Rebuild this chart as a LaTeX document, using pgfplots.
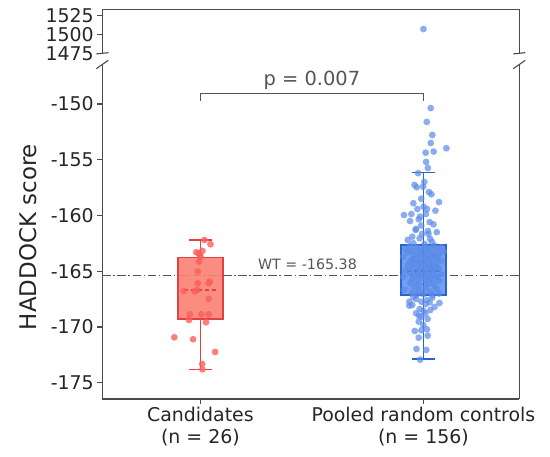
\documentclass[border=0pt]{standalone}
\usepackage{pgfplots}
\pgfplotsset{compat=1.18}
\usepackage{pgfplotstable}
\usepackage{fontspec}
\setmainfont{DejaVu Sans}
\definecolor{redfill}{RGB}{250,128,114}
\definecolor{redpt}{RGB}{250,95,90}
\definecolor{rededge}{RGB}{225,65,65}
\definecolor{bluefill}{RGB}{100,149,237}
\definecolor{bluept}{RGB}{90,138,232}
\definecolor{blueedge}{RGB}{40,100,205}
\definecolor{spine}{RGB}{75,75,75}
\definecolor{annot}{RGB}{85,85,85}
\definecolor{ticktext}{RGB}{38,38,38}

\pgfplotstableread{
x y
0.018 -162.20
0.045 -162.58
-0.019 -163.30
0.009 -163.18
-0.007 -163.39
0.000 -163.70
-0.006 -164.14
-0.012 -165.04
0.042 -165.93
-0.012 -166.08
-0.075 -166.77
-0.015 -166.68
-0.025 -166.80
0.037 -167.49
-0.048 -168.86
0.004 -168.86
0.037 -168.86
-0.051 -169.37
0.025 -169.58
-0.117 -170.93
-0.033 -171.10
0.066 -172.24
0.008 -173.32
0.009 -173.80
-0.003 -163.54
0.037 -166.08
}\candtab

\pgfplotstableread{
x y
1.033 -150.37
1.015 -151.61
1.040 -152.78
1.033 -153.50
1.103 -153.97
1.046 -154.27
1.010 -154.37
1.012 -155.20
1.020 -155.74
0.976 -156.21
1.004 -156.99
0.960 -157.26
0.970 -157.47
0.999 -157.42
1.036 -158.10
1.001 -159.21
0.973 -159.42
1.016 -159.42
0.913 -159.96
0.946 -159.87
1.011 -159.87
1.054 -159.57
0.979 -160.34
0.965 -161.30
1.023 -161.66
0.994 -161.66
0.950 -161.90
1.028 -160.60
0.967 -161.21
1.030 -162.10
0.983 -162.05
1.038 -162.35
0.955 -162.49
1.020 -161.39
0.990 -160.90
1.005 -162.55
0.930 -162.20
1.060 -161.50
0.985 -160.10
1.045 -160.80
0.940 -160.50
1.070 -158.80
0.990 -158.50
1.025 -157.90
0.955 -158.90
1.05 -162.70
0.94 -162.75
1.01 -162.80
1.08 -162.85
0.97 -162.90
1.03 -162.95
0.92 -163.00
1.06 -163.05
0.99 -163.10
1.02 -163.15
0.95 -163.20
1.09 -163.25
1.00 -163.30
0.93 -163.35
1.04 -163.40
0.98 -163.45
1.07 -163.50
0.96 -163.55
1.01 -163.60
1.05 -163.65
0.91 -163.70
1.03 -163.75
0.99 -163.80
1.06 -163.85
0.95 -163.90
1.02 -163.95
0.97 -164.00
1.08 -164.05
1.00 -164.10
0.94 -164.15
1.04 -164.20
0.98 -164.25
1.06 -164.30
0.96 -164.35
1.01 -164.40
1.03 -164.45
0.93 -164.50
1.05 -164.55
0.99 -164.60
1.02 -164.65
0.95 -164.70
1.07 -164.75
0.98 -164.80
1.04 -164.85
0.92 -164.90
1.01 -164.95
1.05 -165.00
0.97 -165.05
1.03 -165.10
0.94 -165.15
1.00 -165.20
1.08 -165.25
0.98 -165.30
1.04 -165.35
0.96 -165.40
1.02 -165.45
0.91 -165.50
1.06 -165.55
0.99 -165.60
1.03 -165.65
0.95 -165.70
1.01 -165.80
1.07 -165.85
0.97 -165.90
1.04 -166.00
0.94 -166.05
1.02 -166.15
0.98 -166.20
1.05 -166.30
0.96 -166.40
1.01 -166.50
1.06 -166.60
0.913 -166.68
0.98 -166.75
1.03 -166.85
0.95 -166.95
1.07 -167.00
1.00 -167.05
0.97 -167.10
1.04 -167.12
0.937 -167.73
0.937 -168.09
0.967 -167.49
0.991 -167.73
1.016 -167.58
1.028 -167.79
1.072 -167.85
0.983 -168.39
1.031 -168.48
0.967 -168.77
1.009 -168.77
0.991 -169.08
1.019 -169.28
0.979 -169.52
0.999 -169.82
0.961 -170.36
0.991 -170.30
1.016 -170.21
0.979 -170.96
1.019 -170.78
0.969 -171.97
1.013 -172.06
0.985 -172.93
1.040 -167.35
0.955 -167.30
1.010 -167.95
0.950 -168.03
1.050 -168.20
1.000 -168.55
0.980 -169.00
}\ctrltab

\begin{document}
\begin{tikzpicture}
\useasboundingbox (0,0) rectangle (550bp,457bp);
% ---------------- bottom panel ----------------
\begin{axis}[
  at={(102.3bp,58bp)}, anchor=south west,
  scale only axis, width=417bp, height=334.5bp,
  xmin=-0.44, xmax=1.43, ymin=-176.46, ymax=-146.46,
  axis x line*=bottom, axis y line*=left,
  axis line style={spine, line width=1.1bp},
  tick align=outside, major tick length=5bp,
  tick style={spine, line width=1.1bp},
  xtick={0,1},
  xticklabels={{Candidates\\(n = 26)},{Pooled random controls\\(n = 156)}},
  xticklabel style={align=center, font=\fontsize{19}{21.5}\selectfont, text=ticktext},
  ytick={-175,-170,-165,-160,-155,-150},
  yticklabels={-175,-170,-165,-160,-155,-150},
  yticklabel style={font=\fontsize{19}{22}\selectfont, text=ticktext},
  clip=false,
]
% WT reference line
\addplot[annot, line width=1.6bp, dash pattern=on 8.5bp off 2.5bp on 1.6bp off 2.5bp]
  coordinates {(-0.44,-165.38) (1.43,-165.38)};
\node[annot, font=\fontsize{14.3}{16}\selectfont, anchor=base, inner sep=0pt]
  at (axis cs:0.48,-164.89) {WT = -165.38};
% red box + whiskers
\addplot[fill=redfill, fill opacity=0.9, draw=rededge, line width=1.6bp]
  coordinates {(-0.1,-169.28) (0.1,-169.28) (0.1,-163.78) (-0.1,-163.78)} -- cycle;
\addplot[rededge, line width=1.6bp] coordinates {(0,-163.78) (0,-162.2)};
\addplot[rededge, line width=1.6bp] coordinates {(0,-169.28) (0,-173.8)};
\addplot[rededge, line width=1.6bp] coordinates {(-0.05,-162.2) (0.05,-162.2)};
\addplot[rededge, line width=1.6bp] coordinates {(-0.05,-173.8) (0.05,-173.8)};
% blue box + whiskers
\addplot[fill=bluefill, fill opacity=0.9, draw=blueedge, line width=1.6bp]
  coordinates {(0.9,-167.13) (1.1,-167.13) (1.1,-162.65) (0.9,-162.65)} -- cycle;
\addplot[blueedge, line width=1.6bp] coordinates {(1,-162.65) (1,-156.16)};
\addplot[blueedge, line width=1.6bp] coordinates {(1,-167.13) (1,-172.87)};
\addplot[blueedge, line width=1.6bp] coordinates {(0.95,-156.16) (1.05,-156.16)};
\addplot[blueedge, line width=1.6bp] coordinates {(0.95,-172.87) (1.05,-172.87)};
% points
\addplot[only marks, mark=*, mark size=3.4bp,
  mark options={fill=redpt, fill opacity=0.8, draw opacity=0}] table[x=x,y=y] {\candtab};
\addplot[only marks, mark=*, mark size=3.4bp,
  mark options={fill=bluept, fill opacity=0.7, draw opacity=0}] table[x=x,y=y] {\ctrltab};
% medians (dashed) and through line
\addplot[rededge, line width=1.6bp, dash pattern=on 4.5bp off 2.5bp]
  coordinates {(-0.075,-166.71) (0.075,-166.71)};
\addplot[blueedge, line width=1.6bp, dash pattern=on 4.5bp off 2.5bp]
  coordinates {(0.925,-164.98) (1.075,-164.98)};
\addplot[blueedge, line width=1.6bp] coordinates {(1,-162.65) (1,-167.13)};
% significance bracket
\addplot[annot, line width=1.4bp] coordinates {(0,-149.69) (0,-149.06) (1,-149.06) (1,-149.69)};
\node[annot, font=\fontsize{19.5}{22}\selectfont, anchor=base, inner sep=0pt]
  at (axis cs:0.5,-148.36) {p = 0.007};
% right spine
\draw[spine, line width=1.1bp] (rel axis cs:1,0) -- (rel axis cs:1,1);
\end{axis}
% ---------------- top panel ----------------
\begin{axis}[
  at={(102.3bp,403.7bp)}, anchor=south west,
  scale only axis, width=417bp, height=44bp,
  xmin=-0.44, xmax=1.43, ymin=1475, ymax=1533,
  axis x line*=top, axis y line*=left,
  axis line style={spine, line width=1.1bp},
  tick align=outside, major tick length=5bp,
  tick style={spine, line width=1.1bp},
  xtick=\empty,
  ytick={1475,1500,1525},
  yticklabels={1475,1500,1525},
  yticklabel style={font=\fontsize{19}{22}\selectfont, text=ticktext},
  clip=false,
]
\addplot[only marks, mark=*, mark size=3.4bp,
  mark options={fill=bluept, fill opacity=0.7, draw opacity=0}] coordinates {(1.0,1507)};
\draw[spine, line width=1.1bp] (rel axis cs:1,0) -- (rel axis cs:1,1);
\end{axis}
% break marks
\draw[spine, line width=1.1bp] (96.3bp,403.1bp) -- (108.3bp,404.3bp);
\draw[spine, line width=1.1bp] (513.3bp,403.1bp) -- (525.3bp,404.3bp);
\draw[spine, line width=1.1bp] (96.3bp,388.3bp) -- (108.3bp,396.7bp);
\draw[spine, line width=1.1bp] (513.3bp,388.3bp) -- (525.3bp,396.7bp);
% y label
\node[rotate=90, font=\fontsize{23}{26}\selectfont, text=ticktext] at (28bp,220bp) {HADDOCK score};
\end{tikzpicture}
\end{document}
